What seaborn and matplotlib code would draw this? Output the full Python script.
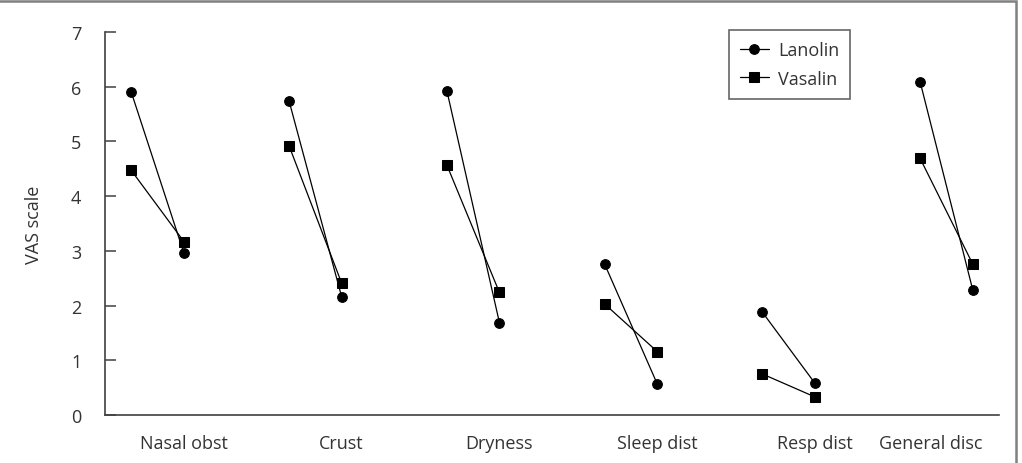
import numpy as np
import pandas as pd
import matplotlib
matplotlib.use("Agg")
import matplotlib.pyplot as plt
from matplotlib.patches import Rectangle
import seaborn as sns

categories = ["Nasal obst", "Crust", "Dryness", "Sleep dist", "Resp dist", "General disc"]
lanolin_before = [5.90, 5.74, 5.93, 2.76, 1.88, 6.09]
lanolin_after = [2.96, 2.16, 1.69, 0.57, 0.58, 2.29]
vasalin_before = [4.47, 4.92, 4.57, 2.03, 0.75, 4.69]
vasalin_after = [3.17, 2.41, 2.24, 1.16, 0.33, 2.76]

# long table: each category gets a slot of 3 units, points at +0.5 (before) and +1.5 (after)
rows = []
for i, cat in enumerate(categories):
    for name, b, a in [("Lanolin", lanolin_before, lanolin_after),
                       ("Vasalin", vasalin_before, vasalin_after)]:
        rows.append(dict(series=name, category=cat, x=3 * i + 0.5, value=b[i]))
        rows.append(dict(series=name, category=cat, x=3 * i + 1.5, value=a[i]))
df = pd.DataFrame(rows)

sns.set_style("white")
plt.rcParams["font.family"] = ["Open Sans", "DejaVu Sans"]
txt = "#333333"
fs = 13

fig = plt.figure(figsize=(10.22, 4.64), dpi=100)
ax = fig.add_axes([105 / 1022, 48 / 464, 894 / 1022, 383 / 464])

sns.lineplot(data=df, x="x", y="value", style="series", units="category",
             estimator=None, markers={"Lanolin": "o", "Vasalin": "s"},
             dashes=False, color="black", linewidth=0.9, markersize=7,
             markeredgecolor="black", ax=ax, legend=True)

ax.set_xlim(0, 17)
ax.set_ylim(0, 7)
ax.set_xlabel("")
ax.set_ylabel("VAS scale", fontsize=fs, color=txt, labelpad=20)

# inward ticks at every unit, category names under the groups
ax.set_xticks(np.arange(0, 18), minor=True)
label_pos = [1.5, 4.5, 7.5, 10.5, 13.5, 15.7]
ax.set_xticks(label_pos)
ax.set_xticklabels(categories)
ax.tick_params(axis="x", which="major", length=0, pad=14, labelsize=fs, labelcolor=txt)
ax.tick_params(axis="x", which="minor", direction="in", length=7, width=1.1, color="#404040")
ax.set_yticks(range(0, 8))
ax.tick_params(axis="y", direction="in", length=8, width=1.1, color="#404040",
               pad=17, labelsize=fs, labelcolor=txt, left=True)

for s in ["top", "right"]:
    ax.spines[s].set_visible(False)
for s in ["left", "bottom"]:
    ax.spines[s].set_color("#404040")
    ax.spines[s].set_linewidth(1.2)

h, l = ax.get_legend_handles_labels()
leg = ax.legend(h, l, loc="upper left", bbox_to_anchor=(729 / 1022, 1 - 31 / 464),
                bbox_transform=fig.transFigure, borderaxespad=0, fancybox=False,
                frameon=True, fontsize=fs, handlelength=1.6, handletextpad=0.5,
                borderpad=0.6, labelspacing=0.6)
leg.get_frame().set_edgecolor("#404040")
leg.get_frame().set_linewidth(1.2)
for t in leg.get_texts():
    t.set_color(txt)

# grey frame around the figure (top and right edges visible)
fig.add_artist(Rectangle((-0.02, -0.02), 1016 / 1022 + 0.02, 1 - 2 / 464 + 0.02,
                         transform=fig.transFigure, fill=False,
                         edgecolor="#808080", linewidth=1.8))

fig.savefig("out.png", dpi=100)
